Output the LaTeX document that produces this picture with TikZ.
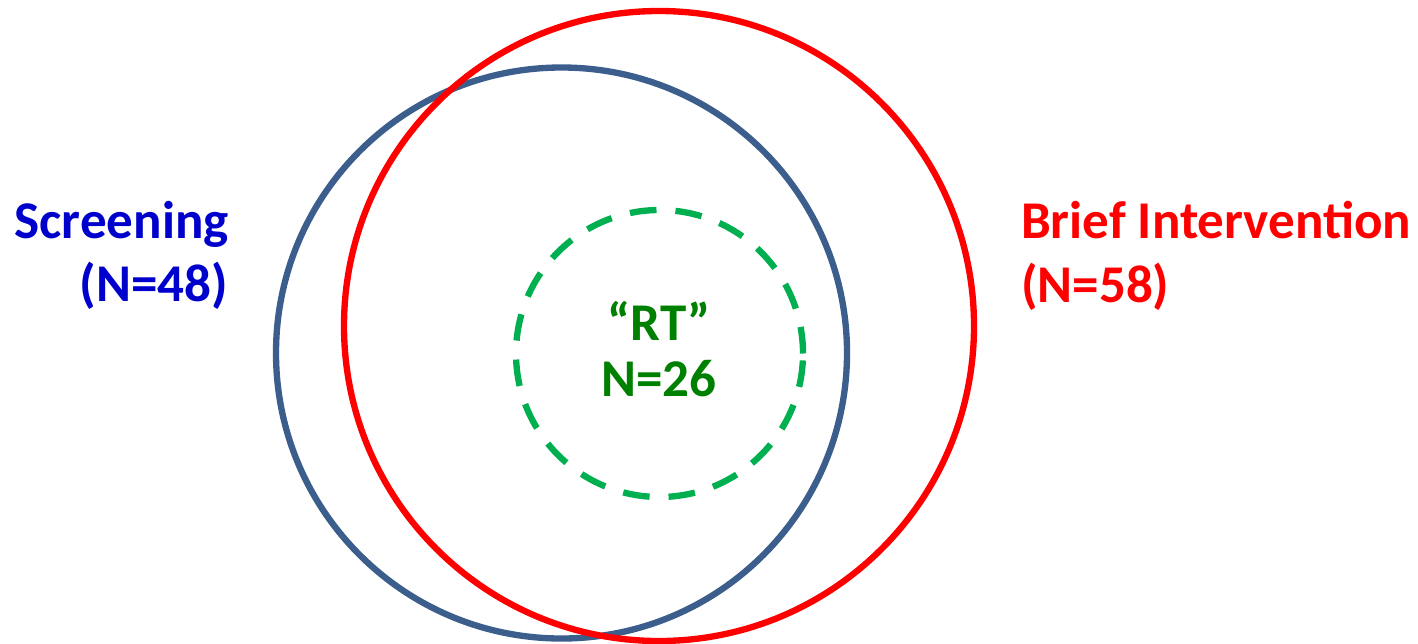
\documentclass[tikz,border=0pt]{standalone}
\usepackage{fontspec}
\setmainfont{Carlito}
\usepackage{tikz}
\usetikzlibrary{positioning}

\definecolor{scrblue}{HTML}{3B5E8C}
\definecolor{scrtext}{HTML}{0000CC}
\definecolor{bired}{HTML}{FF0000}
\definecolor{rtgreen}{HTML}{00B050}
\definecolor{rttext}{HTML}{008000}

\begin{document}
\begin{tikzpicture}[line width=1.8pt,
    lbl/.style={inner sep=0pt, font=\fontsize{15.1pt}{18pt}\selectfont\bfseries}]
  \useasboundingbox (0,0) rectangle (14.18,6.43);

  % Screening and brief intervention circles
  \draw[scrblue] (5.615,2.90) circle (2.855);
  \draw[bired] (6.59,3.17) circle (3.15);

  % RT subset: dashed circle
  \draw[rtgreen, dash pattern=on 7.6pt off 5.4pt] (6.595,2.895) circle (1.435);

  % Labels
  \node[lbl, scrtext, anchor=base east] (scrName) at (2.32,4.05) {Screening};
  \node[lbl, scrtext, anchor=base east] (scrN) at (2.31,3.42) {(N=48)};
  \node[lbl, bired, anchor=base west] (biName) at (10.18,4.05) {Brief Intervention};
  \node[lbl, bired, anchor=base west] (biN) at (10.18,3.41) {(N=58)};
  \node[lbl, rttext, anchor=base] (rtName) at (6.59,3.03) {“RT”};
  \node[lbl, rttext, anchor=base] (rtN) at (6.59,2.47) {N=26};
\end{tikzpicture}
\end{document}
